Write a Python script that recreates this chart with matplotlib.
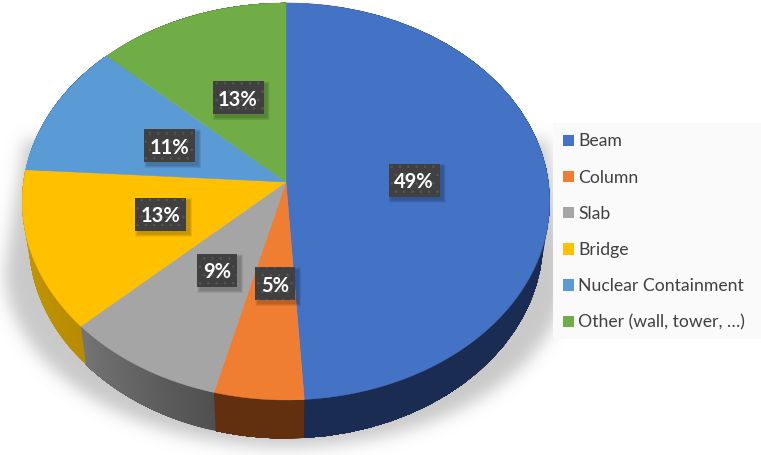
import numpy as np
import matplotlib
matplotlib.use("Agg")
import matplotlib.pyplot as plt
from matplotlib.patches import Polygon, Rectangle, Patch
from matplotlib.path import Path

categories = ["Beam", "Column", "Slab", "Bridge", "Nuclear Containment", "Other (wall, tower, …)"]
shares = [49, 5, 9, 13, 11, 13]

top_colors = ["#4472C4", "#F07E32", "#A5A5A5", "#FFC000", "#5B9BD5", "#70AD47"]
wall_start = ["#1A2C52", "#62300F", "#505050", "#B88C00", "#3A6A99", "#4A7530"]
wall_end = ["#1A2C52", "#62300F", "#747474", "#C89C00", "#3A6A99", "#4A7530"]

label_centers = [(414, 180), (275, 283.5), (217, 270.5), (160.5, 214), (169.5, 145.5), (238, 97.5)]

# perspective pie geometry, in pixels
CX, CY, A, B, K = 286.0, 182.0, 262.5, 196.6, 0.098
DEPTH, SHRINK = 38.5, 0.975


def rim(theta, lower=False):
    u, v = np.sin(theta), np.cos(theta)
    w = 1 + K * v
    x, y = CX + A * u / w, CY - B * v / w
    if lower:
        x, y = CX + SHRINK * (x - CX), y + DEPTH
    return x, y


def mix(c1, c2, t):
    a, b = np.array(matplotlib.colors.to_rgb(c1)), np.array(matplotlib.colors.to_rgb(c2))
    return tuple(a + (b - a) * t)


plt.rcParams["font.family"] = ["Lato", "DejaVu Sans"]
plt.rcParams["hatch.linewidth"] = 0.6
fig = plt.figure(figsize=(7.61, 4.55), dpi=100)
ax = fig.add_axes([0, 0, 1, 1])
ax.set_xlim(0, 761)
ax.set_ylim(455, 0)
ax.axis("off")

# soft shadow beneath the pie
t = np.linspace(0, np.pi, 200)
sx = 286 + 281 * np.cos(t)
sy = 270 + 177 * np.sin(t)
sh_x = np.r_[547, sx, 25]
sh_y = np.r_[140, sy, 140]
gx, gy = np.meshgrid(np.arange(761) + .5, np.arange(455) + .5)
mask = Path(np.c_[sh_x, sh_y]).contains_points(np.c_[gx.ravel(), gy.ravel()]).reshape(gx.shape).astype(float)
kx = np.arange(-24, 25)
kern = np.exp(-kx ** 2 / (2 * 8.0 ** 2))
kern /= kern.sum()
mask = np.apply_along_axis(lambda r: np.convolve(r, kern, mode="same"), 1, mask)
mask = np.apply_along_axis(lambda r: np.convolve(r, kern, mode="same"), 0, mask)
rgba = np.zeros(mask.shape + (4,))
rgba[..., :3] = 0.79
rgba[..., 3] = mask
ax.imshow(rgba, extent=(0, 761, 455, 0), aspect="auto", zorder=1, interpolation="bilinear")
ax.set_xlim(0, 761)
ax.set_ylim(455, 0)

fractions = np.cumsum([0] + shares) / sum(shares)

# side walls: each layer runs to the end of its wedge, so no seams show
for i in range(len(shares)):
    angs = np.linspace(fractions[i], fractions[i + 1], 40) * 2 * np.pi
    for j in range(len(angs) - 1):
        sub = angs[j:]
        ux, uy = rim(sub)
        lx, ly = rim(sub[::-1], True)
        c = mix(wall_start[i], wall_end[i], j / (len(angs) - 2))
        ax.add_patch(Polygon(np.c_[np.r_[ux, lx], np.r_[uy, ly]], closed=True,
                             facecolor=c, edgecolor="none", zorder=2))

# top faces
for i in range(len(shares)):
    angs = np.linspace(fractions[i], fractions[i + 1], 200) * 2 * np.pi
    xs, ys = rim(angs)
    pts = np.c_[np.r_[CX, xs], np.r_[CY, ys]]
    ax.add_patch(Polygon(pts, closed=True, facecolor=top_colors[i], edgecolor=top_colors[i],
                         linewidth=0.3, zorder=3))

# value labels
for share, (lx, ly) in zip(shares, label_centers):
    text = f"{share}%"
    w = 51 if share >= 10 else 40
    h = 33
    for k in range(1, 7):
        ax.add_patch(Rectangle((lx - w / 2 + 3 - k / 2, ly - h / 2 + 3 - k / 2), w + k, h + k,
                               facecolor="black", alpha=0.04, linewidth=0, zorder=4))
    ax.add_patch(Rectangle((lx - w / 2, ly - h / 2), w, h, facecolor="#404040", linewidth=0, zorder=5))
    ax.add_patch(Rectangle((lx - w / 2, ly - h / 2), w, h, facecolor="none", edgecolor="#565656",
                           hatch="..", linewidth=0, zorder=5))
    ax.text(lx, ly, text, color="white", fontsize=14.5, fontweight="bold", ha="center",
            va="center_baseline", zorder=6)

# legend
ax.add_patch(Rectangle((553, 123), 208, 216, facecolor="#FAFAFA", edgecolor="none", zorder=7))
handles = [Patch(facecolor=c, edgecolor="none") for c in top_colors]
leg = ax.legend(handles, categories, loc="upper left", bbox_to_anchor=(563, 133.5),
                bbox_transform=ax.transData, frameon=False, fontsize=12.7, labelcolor="#404040",
                handlelength=0.63, handleheight=0.63, handletextpad=0.22, labelspacing=1.145,
                borderpad=0, borderaxespad=0)
leg.set_zorder(8)

fig.savefig("out.png", dpi=100)
